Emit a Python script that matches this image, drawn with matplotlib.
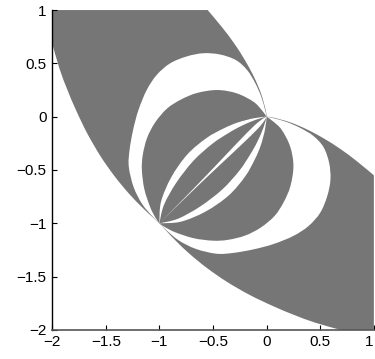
import numpy as np
import matplotlib
matplotlib.use("Agg")
from matplotlib import pyplot as plt
from matplotlib.path import Path
from matplotlib.patches import PathPatch

# boundary curves (upper-left halves; the picture is
# symmetric about y = x, so the other halves are the same points swapped)

# outer band, upper-right edge: from top of the frame down to the origin
u_x = [-0.55, -0.42, -0.303, -0.203, -0.119, -0.053, -0.009, 0.0]
u_y = [1.0, 0.844, 0.688, 0.531, 0.375, 0.219, 0.0625, 0.0]

# outer band, lower-left edge: from left of the frame down to (-1,-1)
l_x = [-2.0, -1.931, -1.857, -1.778, -1.673, -1.546, -1.415, -1.286, -1.167, -1.069, -1.0]
l_y = [0.69, 0.45, 0.25, 0.063, -0.156, -0.375, -0.562, -0.719, -0.844, -0.937, -1.0]

# big white outline, from the origin round to (-1,-1)
w_x = [0.0, -0.014, -0.05, -0.105, -0.18, -0.285, -0.434, -0.590, -0.745, -0.900,
       -1.025, -1.118, -1.195, -1.245, -1.278, -1.285, -1.24, -1.16, -1.06, -1.0]
w_y = [0.0, 0.0625, 0.1875, 0.3125, 0.435, 0.53, 0.583, 0.595, 0.565, 0.5,
       0.391, 0.25, 0.0625, -0.125, -0.3125, -0.47, -0.66, -0.82, -0.94, -1.0]

# inner gray outline, from the origin round to (-1,-1)
g_x = [0.0, -0.046, -0.124, -0.279, -0.46, -0.65, -0.80, -0.93, -1.04,
       -1.115, -1.155, -1.163, -1.14, -1.085, -1.035, -1.0]
g_y = [0.0, 0.0625, 0.141, 0.219, 0.25, 0.222, 0.16, 0.075, -0.055,
       -0.2, -0.36, -0.5, -0.68, -0.85, -0.95, -1.0]

# thin white crescent: outer and inner edge, from (-1,-1) to the origin
c1_x = [-1.0, -0.985, -0.89, -0.74, -0.56, -0.40, -0.27, -0.12, 0.0]
c1_y = [-1.0, -0.80, -0.57, -0.355, -0.2, -0.11, -0.055, -0.015, 0.0]
c2_x = [-1.0, -0.957, -0.842, -0.682, -0.506, -0.356, -0.238, -0.104, 0.0]
c2_y = [-1.0, -0.827, -0.619, -0.413, -0.254, -0.154, -0.088, -0.030, 0.0]

# white slit along the diagonal: position from (-1,-1) (0) to origin (1), half width
s_t = [0.0, 0.15, 0.3, 0.45, 0.6, 0.75, 0.9, 0.97, 1.0]
s_hw = [0.0, 0.0015, 0.004, 0.008, 0.014, 0.02, 0.022, 0.012, 0.0]

xticks = [-2, -1.5, -1, -0.5, 0, 0.5, 1]
xlabels = ["\u22122", "\u22121.5", "\u22121", "\u22120.5", "0", "0.5", "1"]
yticks = [-2, -1.5, -1, -0.5, 0, 0.5, 1]
ylabels = ["\u22122", "\u22121.5", "\u22121", "\u22120.5", "0", "0.5", "1"]

GRAY = "#767676"


def pts(xs, ys):
    return [np.array(p, float) for p in zip(xs, ys)]

def swap(p):
    return [q[::-1] for q in p]

def closed(pieces):
    # pieces join end to start; longer pieces go through their points as a
    # Catmull-Rom spline (cubic Bezier segments)
    verts = [pieces[0][0]]
    codes = [Path.MOVETO]
    for p in pieces:
        n = len(p)
        if n == 2:
            verts.append(p[1])
            codes.append(Path.LINETO)
            continue
        for i in range(n - 1):
            p0 = p[i - 1] if i > 0 else p[i]
            p3 = p[i + 2] if i + 2 < n else p[i + 1]
            verts += [p[i] + (p[i + 1] - p0) / 6, p[i + 1] - (p3 - p[i]) / 6, p[i + 1]]
            codes += [Path.CURVE4] * 3
    verts.append(verts[0])
    codes.append(Path.CLOSEPOLY)
    return Path(verts, codes)

def add(ax, path, color):
    ax.add_patch(PathPatch(path, facecolor=color, edgecolor="none", lw=0))


plt.rcParams["font.family"] = ["Liberation Sans", "DejaVu Sans"]
fig = plt.figure(figsize=(3.75, 3.59), dpi=100)
ax = fig.add_axes([0.139, 0.081, 0.858, 0.891])

U = pts(u_x, u_y)
L = pts(l_x, l_y)
corner_tl = np.array([-2.0, 1.0])
corner_br = np.array([1.0, -2.0])
band = closed([[corner_tl, U[0]], U, swap(U)[::-1],
               [swap(U)[0], corner_br], [corner_br, swap(L)[0]],
               swap(L), L[::-1], [L[0], corner_tl]])
add(ax, band, GRAY)

W = pts(w_x, w_y)
add(ax, closed([W, swap(W)[::-1]]), "white")

G = pts(g_x, g_y)
add(ax, closed([G, swap(G)[::-1]]), GRAY)

C1 = pts(c1_x, c1_y)
add(ax, closed([C1, swap(C1)[::-1]]), "white")
C2 = pts(c2_x, c2_y)
add(ax, closed([C2, swap(C2)[::-1]]), GRAY)

t = np.array(s_t)
hw = np.array(s_hw) / np.sqrt(2)
top = pts(-1 + t - hw, -1 + t + hw)
bot = pts(-1 + t + hw, -1 + t - hw)
add(ax, closed([top, bot[::-1]]), "white")

ax.set_xlim(-2, 1)
ax.set_ylim(-2, 1)
ax.set_xticks(xticks)
ax.set_xticklabels(xlabels)
ax.set_yticks(yticks)
ax.set_yticklabels(ylabels)
ax.tick_params(direction="in", length=3.5, width=0.8, labelsize=11, pad=4)
ax.get_xticklabels()[-1].set_horizontalalignment("right")
ax.spines["top"].set_visible(False)
ax.spines["right"].set_visible(False)
ax.spines["left"].set_linewidth(1.0)
ax.spines["bottom"].set_linewidth(1.2)
ax.spines["bottom"].set_color("#555555")

fig.savefig("out.png", dpi=100)
